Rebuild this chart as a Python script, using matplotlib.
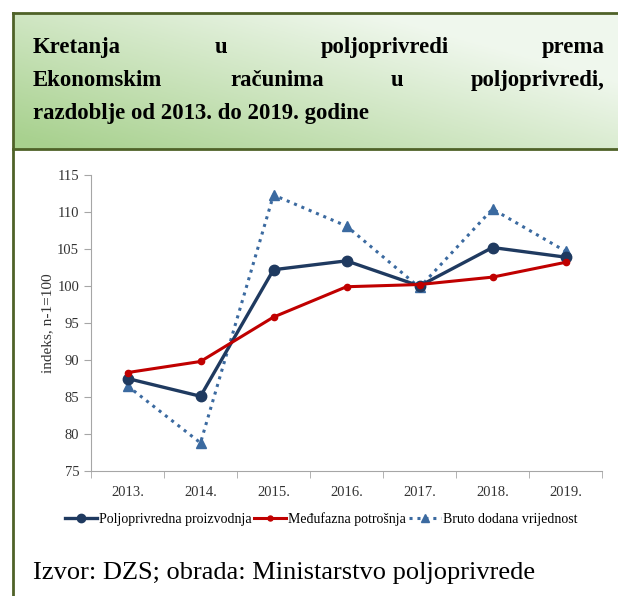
import numpy as np
import matplotlib
matplotlib.use("Agg")
import matplotlib.pyplot as plt
from matplotlib.lines import Line2D

plt.rcParams['font.family'] = ['Liberation Serif', 'DejaVu Serif']

years = ["2013.", "2014.", "2015.", "2016.", "2017.", "2018.", "2019."]
proizvodnja = [87.5, 85.1, 102.2, 103.4, 100.0, 105.2, 103.9]
potrosnja = [88.3, 89.8, 95.8, 99.9, 100.2, 101.2, 103.2]
bdv = [86.5, 78.8, 112.3, 108.1, 99.8, 110.4, 104.7]
series_names = ["Poljoprivredna proizvodnja", "Međufazna potrošnja", "Bruto dodana vrijednost"]

title_lines = [["Kretanja", "u", "poljoprivredi", "prema"],
               ["Ekonomskim", "računima", "u", "poljoprivredi,"],
               ["razdoblje od 2013. do 2019. godine"]]
source = "Izvor: DZS; obrada: Ministarstvo poljoprivrede"

W, H = 618, 596
fig = plt.figure(figsize=(W / 100, H / 100), dpi=100)

def fx(px):
    return px / W

def fy(py):
    return 1 - py / H

# header box with gradient
hdr_top, hdr_bot, box_left = 13, 149, 13
hax = fig.add_axes([fx(box_left), fy(hdr_bot), 1 - fx(box_left), (hdr_bot - hdr_top) / H])
gx, gy = np.meshgrid(np.linspace(0, 1, 200), np.linspace(0, 1, 60))
t = np.clip(0.75 * gx + 0.6 * (1 - gy) - 0.05, 0, 1)
c0 = np.array([0.66, 0.82, 0.56])
c1 = np.array([0.94, 0.97, 0.93])
img = c0 * (1 - t[..., None]) + c1 * t[..., None]
hax.imshow(img, aspect='auto', extent=[0, 1, 0, 1], origin='upper')
hax.axis('off')

border = '#4f6228'
fig.add_artist(Line2D([fx(box_left), 1], [fy(hdr_top), fy(hdr_top)], color=border, lw=2))
fig.add_artist(Line2D([fx(box_left), 1], [fy(hdr_bot), fy(hdr_bot)], color=border, lw=2))
fig.add_artist(Line2D([fx(box_left), fx(box_left)], [fy(hdr_top), 0], color=border, lw=2))

# justified title
fig.canvas.draw()
r = fig.canvas.get_renderer()
tx0, tx1 = 33, 605
baselines = [53, 86, 119]
for words, base in zip(title_lines, baselines):
    texts = [fig.text(0, fy(base), w, fontsize=16.4, fontweight='bold', va='baseline', ha='left')
             for w in words]
    widths = [tt.get_window_extent(r).width for tt in texts]
    if len(words) > 1:
        gap = (tx1 - tx0 - sum(widths)) / (len(words) - 1)
    else:
        gap = 0
    x = tx0
    for tt, w in zip(texts, widths):
        tt.set_x(fx(x))
        x += w + gap

# chart
ax = fig.add_axes([fx(91), fy(471), fx(602) - fx(91), (471 - 175) / H])
x = np.arange(len(years))
ax.plot(x, proizvodnja, color='#1f3a60', lw=2.4, marker='o', ms=7.5, label=series_names[0], zorder=3)
ax.plot(x, potrosnja, color='#c00000', lw=2.2, marker='o', ms=4.5, label=series_names[1], zorder=4)
ax.plot(x, bdv, color='#3b6aa0', lw=2.2, ls=(0, (1, 1.6)), marker='^', ms=7.5, label=series_names[2], zorder=2)

ax.set_xlim(-0.5, len(years) - 0.5)
ax.set_ylim(75, 115)
ax.set_yticks(np.arange(75, 116, 5))
ax.set_xticks(x)
ax.set_xticklabels(years)
ax.set_xticks(np.arange(-0.5, len(years)), minor=True)
ax.tick_params(axis='x', which='major', length=0, pad=11, labelsize=10.5, colors='#333333')
ax.tick_params(axis='x', which='minor', length=5, color='#a6a6a6')
ax.tick_params(axis='y', length=5, color='#a6a6a6', labelsize=10.5, labelcolor='#333333')
for s in ['top', 'right']:
    ax.spines[s].set_visible(False)
for s in ['left', 'bottom']:
    ax.spines[s].set_color('#a6a6a6')
ax.set_ylabel("indeks, n-1=100", fontsize=11, color='#333333', labelpad=2)

ax.legend(loc='center', bbox_to_anchor=(fx(321), fy(519)), bbox_transform=fig.transFigure,
          ncol=3, frameon=False, fontsize=10, handlelength=2.3, handletextpad=0.15,
          columnspacing=0.2, borderpad=0, markerscale=0.8)

fig.text(fx(33), fy(573), source, fontsize=19, va='center', ha='left')

fig.savefig("out.png", dpi=100)
